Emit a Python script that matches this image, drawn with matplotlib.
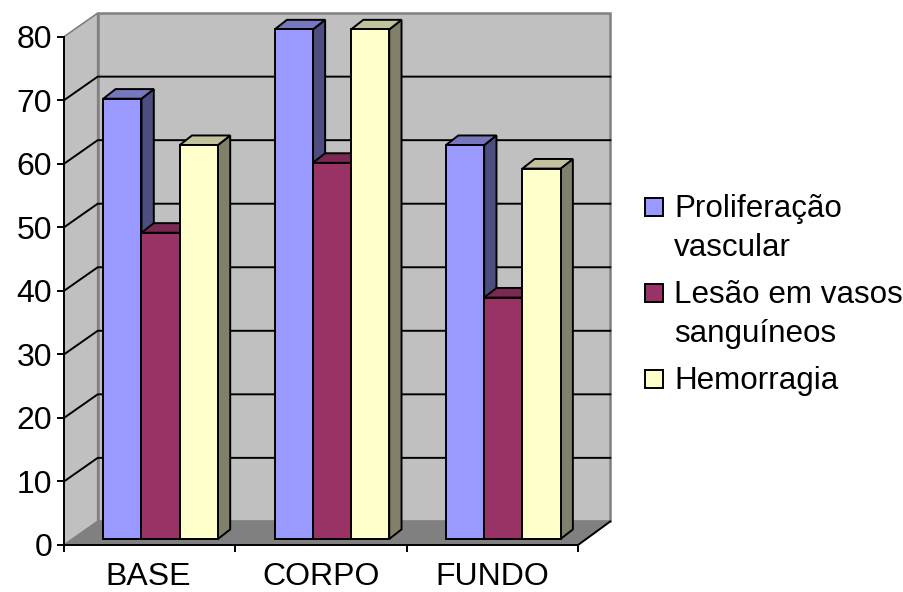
import matplotlib
matplotlib.use("Agg")
import matplotlib.pyplot as plt
from matplotlib.patches import Polygon, Rectangle

plt.rcParams['font.family'] = ['Liberation Sans', 'DejaVu Sans']

categories = ["BASE", "CORPO", "FUNDO"]
proliferacao = [69.3, 80.2, 62.0]
lesao = [48.2, 59.2, 38.0]
hemorragia = [62.0, 80.2, 58.3]
yticks = [0, 10, 20, 30, 40, 50, 60, 70, 80]
legend_lines = ["Proliferação\nvascular", "Lesão em vasos\nsanguíneos", "Hemorragia"]

# front, top, side colours per series
blue = ['#9999FF', '#7777BD', '#4D4D80']
maroon = ['#993366', '#7A2952', '#4D1A33']
yellow = ['#FFFFCC', '#C2C29E', '#80806B']

W, H = 904, 592
L, R, T, B = 64, 578, 36.7, 545
FS = 23
LEG_FS = 22.6
fig = plt.figure(figsize=(W/100, H/100), dpi=100)
ax = fig.add_axes([L/W, 1-B/H, (R-L)/W, (B-T)/H])
ax.set_xlim(0, 3)
ax.set_ylim(0, 80)
ax.patch.set_visible(False)

# depth of the fake 3d box, data units
px_x = 3/(R-L)
px_y = 80/(B-T)
DX = 33.7*px_x    # left edge of back wall
DXR = 32.3*px_x   # right edge of back wall
DY = 23.6*px_y
lw = 1.4

def poly(ax, pts, fc, ec='black', z=3, w=lw):
    ax.add_patch(Polygon(pts, closed=True, facecolor=fc, edgecolor=ec, linewidth=w,
                         zorder=z, clip_on=False, joinstyle='miter'))

# walls and floor
poly(ax, [(0, 0), (DX, DY), (DX, 80+DY), (0, 80)], '#C0C0C0', '#808080', 1, 1.2)
poly(ax, [(DX, DY), (3+DXR, DY), (3+DXR, 80+DY), (DX, 80+DY)], '#C0C0C0', '#808080', 1, 1.8)
poly(ax, [(0, 0), (3, 0), (3+DXR, DY), (DX, DY)], '#808080', '#808080', 1.2, 1)
ax.plot([3, 3+DXR], [0, DY], color='black', lw=lw, zorder=2.2, clip_on=False)

# gridlines on side wall and back wall
for v in yticks[1:-1]:
    ax.plot([0, DX, 3+DXR], [v, v+DY, v+DY], color='black', lw=lw, zorder=1.5, clip_on=False)

# bars
bar_w = 38.2*px_x
start = 39.3*px_x
bar_base = 6*px_y
side_dx = 12.3*px_x
side_dy = 9.6*px_y
for c in range(len(categories)):
    for s, (vals, col) in enumerate([(proliferacao, blue), (lesao, maroon), (hemorragia, yellow)]):
        x0 = c + start + s*bar_w
        x1 = x0 + bar_w
        y0 = bar_base
        y1 = bar_base + vals[c]
        poly(ax, [(x1, y0), (x1+side_dx, y0+side_dy), (x1+side_dx, y1+side_dy), (x1, y1)], col[2])
        poly(ax, [(x0, y1), (x1, y1), (x1+side_dx, y1+side_dy), (x0+side_dx, y1+side_dy)], col[1])
        poly(ax, [(x0, y0), (x1, y0), (x1, y1), (x0, y1)], col[0])

for side in ['top', 'right']:
    ax.spines[side].set_visible(False)
for side in ['left', 'bottom']:
    ax.spines[side].set_linewidth(lw)

ax.set_yticks(yticks)
ax.tick_params(axis='y', labelsize=FS, length=5, width=lw, pad=3.5)
ax.set_xticks([0, 1, 2, 3])
ax.set_xticklabels([])
ax.tick_params(axis='x', which='major', length=5, width=lw)
ax.set_xticks([0.49, 1.5, 2.5], minor=True)
ax.set_xticklabels(categories, minor=True)
ax.tick_params(axis='x', which='minor', length=0, labelsize=FS, pad=12.3)

# legend
swatch_y = [198, 284, 370]
text_y = [217, 303, 389]
for i, col in enumerate([blue, maroon, yellow]):
    fig.add_artist(Rectangle((645/W, 1-(swatch_y[i]+18)/H), 18/W, 18/H, facecolor=col[0],
                             edgecolor='black', linewidth=lw, transform=fig.transFigure))
    fig.text(674/W, 1-text_y[i]/H, legend_lines[i].split("\n")[0], fontsize=LEG_FS, va='baseline', ha='left')
    if "\n" in legend_lines[i]:
        fig.text(674/W, 1-(text_y[i]+39)/H, legend_lines[i].split("\n")[1], fontsize=LEG_FS, va='baseline', ha='left')

fig.savefig('out.png', dpi=100)
